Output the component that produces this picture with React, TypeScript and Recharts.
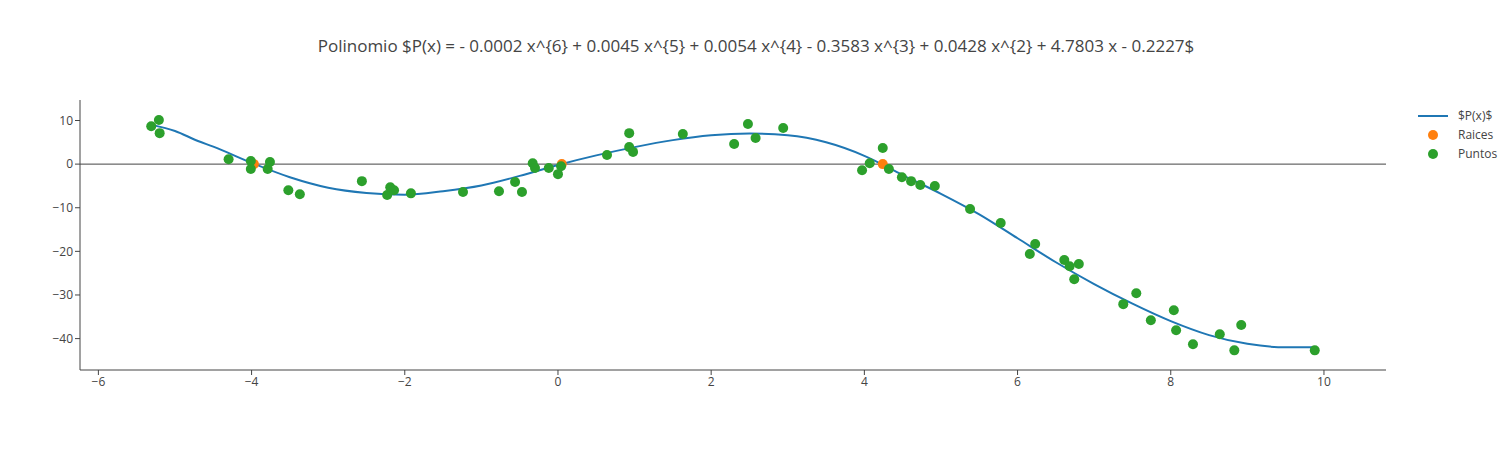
import React from 'react';
import { ComposedChart, Line, Scatter, XAxis, YAxis, ReferenceLine } from 'recharts';

const curveX = [-5.3, -5, -4.7, -4.5, -4, -3.5, -3, -2.5, -2, -1.5, -1, -0.5, 0, 0.5, 1, 1.5, 2, 2.5, 3, 3.5, 4, 4.5, 5, 5.5, 6, 6.5, 7, 7.5, 8, 8.5, 9, 9.5, 9.9];
const curveY = [9, 7.6, 5.3, 4, 0.3, -3, -5.4, -6.6, -7, -6.2, -4.9, -2.7, -0.2, 2, 3.9, 5.5, 6.6, 7, 6.6, 5, 1.9, -2.5, -6.8, -11.5, -17, -22.5, -27.5, -32, -36, -39.2, -41.2, -42, -42];

const rootX = [-3.97, 0.05, 4.24];
const rootY = [0, 0, 0];

const pointX = [-5.31, -5.21, -5.2, -4.3, -4.01, -4.01, -3.79, -3.76, -3.52, -3.37, -2.56, -2.23, -2.19, -2.14, -1.92, -1.24, -0.77, -0.56, -0.47, -0.33, -0.3, -0.12, 0.0, 0.04, 0.64, 0.93, 0.93, 0.98, 1.63, 2.3, 2.48, 2.58, 2.94, 3.97, 4.07, 4.24, 4.32, 4.49, 4.61, 4.73, 4.92, 5.38, 5.78, 6.16, 6.23, 6.61, 6.68, 6.74, 6.8, 7.38, 7.55, 7.74, 8.04, 8.07, 8.29, 8.64, 8.83, 8.92, 9.88];
const pointY = [8.7, 10.1, 7.1, 1.1, 0.7, -1.1, -1.1, 0.5, -6.0, -6.9, -3.9, -7.1, -5.3, -6.0, -6.7, -6.4, -6.2, -4.1, -6.4, 0.2, -0.9, -0.9, -2.3, -0.5, 2.1, 7.1, 3.9, 2.8, 6.9, 4.6, 9.2, 6.0, 8.3, -1.4, 0.2, 3.7, -1.1, -3.0, -3.9, -4.8, -5.0, -10.3, -13.5, -20.6, -18.3, -22.0, -23.4, -26.4, -22.9, -32.1, -29.6, -35.8, -33.5, -38.1, -41.3, -39.0, -42.7, -36.9, -42.7];

const xTicks = [-6, -4, -2, 0, 2, 4, 6, 8, 10];
const yTicks = [-40, -30, -20, -10, 0, 10];

const curve = curveX.map((x, i) => ({ x, y: curveY[i] }));
const roots = rootX.map((x, i) => ({ x, y: rootY[i] }));
const points = pointX.map((x, i) => ({ x, y: pointY[i] }));

const FONT = '"Open Sans", Arial, sans-serif';
const fmt = (v: number) => String(v).replace('-', '\u2212');
const tick = { fill: '#444', fontSize: 12, fontFamily: FONT };

const dot = (color: string) => (p: any) => <circle cx={p.cx} cy={p.cy} r={5} fill={color} />;

export default function App() {
  return (
    <div style={{ position: 'absolute', left: 0, top: 0, width: 1512, height: 450, background: '#fff', fontFamily: FONT }}>
      <div style={{ position: 'absolute', top: 34, left: 0, width: 1512, textAlign: 'center', fontSize: 17, color: '#444' }}>
        Polinomio $P(x) = - 0.0002 x^{'{6}'} + 0.0045 x^{'{5}'} + 0.0054 x^{'{4}'} - 0.3583 x^{'{3}'} + 0.0428 x^{'{2}'} + 4.7803 x - 0.2227$
      </div>
      <ComposedChart width={1512} height={450} margin={{ top: 100, right: 126, bottom: 50, left: 40 }}>
        <XAxis type="number" dataKey="x" domain={[-6.24, 10.81]} ticks={xTicks} tickFormatter={fmt} tick={tick}
          stroke="#444" tickSize={5} height={30} allowDataOverflow />
        <YAxis type="number" dataKey="y" domain={[-47.2, 14.7]} ticks={yTicks} tickFormatter={fmt} tick={tick}
          stroke="#444" tickSize={5} width={40} allowDataOverflow />
        <ReferenceLine y={0} stroke="#444" strokeWidth={1} />
        <Line data={curve} dataKey="y" type="monotone" stroke="#1f77b4" strokeWidth={2} dot={false} isAnimationActive={false} />
        <Scatter data={roots} dataKey="y" shape={dot('#ff7f0e')} isAnimationActive={false} />
        <Scatter data={points} dataKey="y" shape={dot('#2ca02c')} isAnimationActive={false} />
      </ComposedChart>
      <div style={{ position: 'absolute', left: 1418, top: 106, fontSize: 12, color: '#444', lineHeight: '19px' }}>
        <div style={{ display: 'flex', alignItems: 'center' }}>
          <svg width={30} height={10}><line x1={0} y1={5} x2={30} y2={5} stroke="#1f77b4" strokeWidth={2} /></svg>
          <span style={{ marginLeft: 10 }}>$P(x)$</span>
        </div>
        <div style={{ display: 'flex', alignItems: 'center' }}>
          <svg width={30} height={12}><circle cx={15} cy={6} r={5} fill="#ff7f0e" /></svg>
          <span style={{ marginLeft: 10 }}>Raices</span>
        </div>
        <div style={{ display: 'flex', alignItems: 'center' }}>
          <svg width={30} height={12}><circle cx={15} cy={6} r={5} fill="#2ca02c" /></svg>
          <span style={{ marginLeft: 10 }}>Puntos</span>
        </div>
      </div>
    </div>
  );
}
